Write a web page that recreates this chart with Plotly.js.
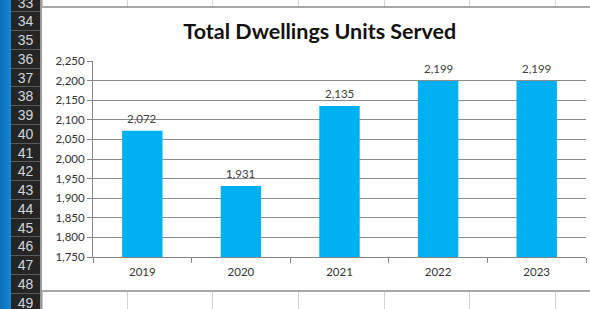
<!DOCTYPE html>
<html>
<head>
<meta charset="utf-8">
<script src="https://cdn.plot.ly/plotly-3.0.1.min.js"></script>
<style>
  html, body { margin:0; padding:0; width:590px; height:309px; overflow:hidden; background:#ffffff; }
  #wrap { position:relative; width:590px; height:309px; }
  .blue { position:absolute; left:0; top:0; width:11px; height:309px; background:linear-gradient(90deg,#0a6fb8,#1787d6); }
  .hdr { position:absolute; left:11px; top:0; width:29px; height:309px; background:#252525; }
  .row { position:absolute; left:11px; width:29px; box-sizing:border-box; border-bottom:1px solid #5a5a5a;
         color:#cfd6de; font-family:"Liberation Sans", Arial, sans-serif; font-size:14px; text-align:center; }
  .hsep { position:absolute; left:40px; top:0; width:2px; height:309px; background:#9a9a9a; }
  .vline { position:absolute; width:1px; background:#d4d4d4; }
  .border { position:absolute; background:#a6a6a6; }
  #chart { position:absolute; left:42px; top:8px; width:548px; height:282px; }
</style>
</head>
<body>
<div id="wrap">
  <div class="blue"></div>
  <div class="hdr"></div>
  <div id="rows"></div>
  <div class="hsep"></div>
  <div id="cells"></div>
  <div class="border" style="left:42px; top:6px; width:548px; height:2px;"></div>
  <div class="border" style="left:42px; top:290px; width:548px; height:2px;"></div>
  <div id="chart"></div>
</div>
<script>
// Chart data
var years = ["2019", "2020", "2021", "2022", "2023"];
var dwellings = [2072, 1931, 2135, 2199, 2199];
var titleText = "Total Dwellings Units Served";

// Spreadsheet chrome (row header labels, column separators)
var rowLabels = ["33","34","35","36","37","38","39","40","41","42","43","44","45","46","47","48","49"];
var colLines = [127, 212, 298, 384, 469, 555];

var rowsDiv = document.getElementById("rows");
rowLabels.forEach(function(lbl, i) {
  var d = document.createElement("div");
  d.className = "row";
  var h = 18.75;
  d.style.top = (-6.5 + i * h) + "px";
  d.style.height = h + "px";
  d.style.lineHeight = h + "px";
  d.textContent = lbl;
  rowsDiv.appendChild(d);
});
var cellsDiv = document.getElementById("cells");
colLines.forEach(function(x) {
  var a = document.createElement("div");
  a.className = "vline"; a.style.left = x + "px"; a.style.top = "0px"; a.style.height = "6px";
  cellsDiv.appendChild(a);
  var b = document.createElement("div");
  b.className = "vline"; b.style.left = x + "px"; b.style.top = "292px"; b.style.height = "17px";
  cellsDiv.appendChild(b);
});
var hl = document.createElement("div");
hl.className = "vline"; hl.style.left = "42px"; hl.style.top = "0px"; hl.style.height = "309px"; hl.style.background = "#c8c8c8";
cellsDiv.appendChild(hl);

var fontFam = "Lato, 'Open Sans', sans-serif";

var trace = {
  type: "bar",
  x: years,
  y: dwellings,
  marker: { color: "#00B0F0" },
  hoverinfo: "none"
};

var annotations = years.map(function(yr, i) {
  return {
    x: i, y: dwellings[i], xref: "x", yref: "y",
    text: dwellings[i].toLocaleString("en-US"),
    showarrow: false, yanchor: "bottom", yshift: 4,
    font: { family: fontFam, size: 11.5, color: "#404040" }
  };
});

var layout = {
  width: 548, height: 282,
  margin: { l: 51, r: 4, t: 53, b: 33 },
  paper_bgcolor: "#ffffff",
  plot_bgcolor: "#ffffff",
  bargap: 0.59,
  showlegend: false,
  annotations: annotations,
  title: {
    text: "<b>" + titleText + "</b>",
    font: { family: fontFam, size: 21.5, color: "#111111" },
    x: 0.507, xref: "container", xanchor: "center",
    y: 0.915, yref: "container", yanchor: "middle"
  },
  xaxis: {
    type: "category",
    range: [-0.5, 4.5],
    showline: true, linecolor: "#868686", linewidth: 1,
    ticks: "outside", tickson: "boundaries", ticklen: 5, tickcolor: "#868686",
    tickangle: 0,
    ticklabelstandoff: 4,
    tickfont: { family: fontFam, size: 11.5, color: "#333333" },
    showgrid: false, zeroline: false, fixedrange: true
  },
  yaxis: {
    range: [1750, 2250], dtick: 50, tick0: 1750,
    tickformat: ",d",
    showline: true, linecolor: "#868686", linewidth: 1,
    ticks: "outside", ticklen: 5, tickcolor: "#868686",
    showgrid: true, gridcolor: "#8c8c8c", gridwidth: 1,
    tickfont: { family: fontFam, size: 11.5, color: "#333333" },
    zeroline: false, fixedrange: true
  }
};

Plotly.newPlot("chart", [trace], layout, { staticPlot: true, displayModeBar: false });
</script>
</body>
</html>
